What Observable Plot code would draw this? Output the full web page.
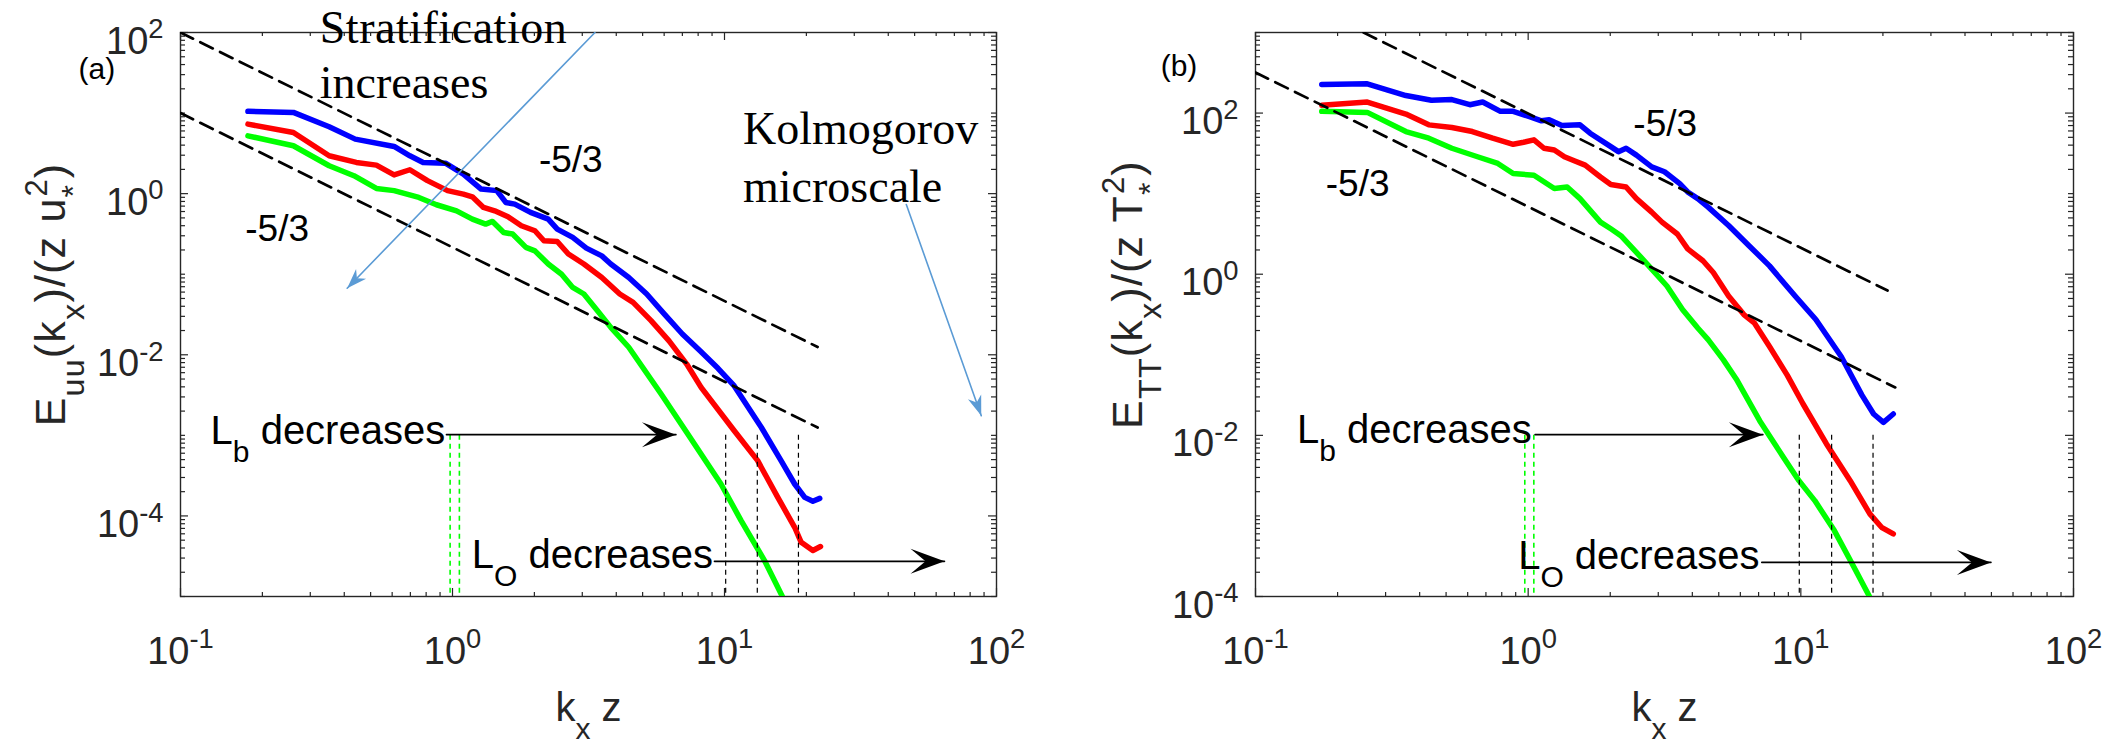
<!DOCTYPE html>
<html><head><meta charset="utf-8">
<script src="https://cdn.jsdelivr.net/npm/d3@7"></script>
<script src="https://cdn.jsdelivr.net/npm/@observablehq/plot@0.6"></script>
<style>
html,body{margin:0;padding:0;background:#fff;}
#wrap{display:flex;width:2116px;height:744px;overflow:hidden;background:#fff;}
svg{display:block;}
</style></head><body><div id="wrap"></div>
<script>
// ---------------- data: panel (a) E_uu ----------------
const a_blue_k = [0.177,0.26,0.352,0.439,0.61,0.697,0.78,0.942,1.096,1.274,1.455,1.57,1.694,1.936,2.249,2.427,2.767,3.105,3.54,3.819,4.446,5.176,6.012,6.998,8.128,9.462,10.86,13.65,16.14,18.11,19.72,21.13,22.39];
const a_blue_E = [10.5,10.2,6.76,4.75,3.85,2.95,2.44,2.39,1.75,1.14,1.09,0.778,0.741,0.585,0.483,0.363,0.286,0.211,0.169,0.134,0.0912,0.0568,0.032,0.0181,0.0112,0.0068,0.0041,0.00126,4.85e-4,2.49e-4,1.70e-4,1.52e-4,1.65e-4];
const a_red_k = [0.177,0.26,0.352,0.443,0.525,0.61,0.697,0.809,0.959,1.096,1.183,1.3,1.429,1.6,1.791,2.009,2.168,2.427,2.667,3.041,3.54,4.121,4.613,5.37,6.252,7.261,8.204,10.86,13.24,15.7,18.11,19.14,21.13,22.54];
const a_red_E = [7.29,5.74,2.95,2.44,2.26,1.71,1.98,1.45,1.09,0.986,0.914,0.675,0.612,0.516,0.399,0.346,0.26,0.255,0.178,0.134,0.0912,0.0568,0.0447,0.0265,0.0149,0.00767,0.00394,0.00114,4.85e-4,1.70e-4,7.23e-5,4.70e-5,3.72e-5,4.17e-5];
const a_green_k = [0.177,0.26,0.352,0.434,0.525,0.61,0.752,0.873,1.035,1.183,1.324,1.403,1.542,1.663,1.862,2.009,2.249,2.518,2.767,3.041,3.412,3.819,4.446,5.848,7.328,9.705,11.51,14.03,16.37];
const a_green_E = [5.22,3.93,2.22,1.67,1.16,1.09,0.897,0.728,0.612,0.483,0.419,0.452,0.33,0.315,0.215,0.195,0.134,0.1,0.0686,0.0568,0.0352,0.0219,0.0124,0.00326,0.00104,2.49e-4,8.75e-5,2.79e-5,9.8e-6];

// ---------------- data: panel (b) E_TT ----------------
const b_blue_k = [0.175,0.257,0.356,0.442,0.525,0.611,0.681,0.791,0.881,1.005,1.119,1.194,1.33,1.549,1.687,2.009,2.143,2.286,2.495,2.838,3.162,3.597,3.846,4.188,4.571,5.433,6.457,7.674,9.528,11.35,14.06,16.75,18.49,20.09,21.83];
const b_blue_E = [226,231,165,144,147,127,137,105,105,90.8,80.2,82.6,70.1,71.4,56.2,38.3,33.2,36.6,30.1,21.5,18.7,13.3,10.5,8.67,6.81,4.02,2.26,1.27,0.536,0.274,0.0953,0.0316,0.0184,0.0145,0.0184];
const b_red_k = [0.175,0.257,0.356,0.432,0.525,0.624,0.741,0.881,0.962,1.05,1.143,1.247,1.358,1.483,1.618,1.841,2.009,2.286,2.495,2.838,3.097,3.524,3.846,4.375,4.775,5.433,6.18,6.745,7.674,8.913,10.19,12.42,15.17,17.91,19.77,21.83];
const b_red_E = [125,137,97.3,71.4,66.2,59.0,48.8,41.0,43.4,46.5,36.6,34.8,28.7,25.4,22.6,16.1,13.0,12.1,8.67,5.9,4.43,3.16,2.06,1.47,1.05,0.536,0.316,0.249,0.127,0.056,0.0245,0.00782,0.00274,0.00106,7.23e-4,5.98e-4];
const b_green_k = [0.175,0.257,0.356,0.432,0.525,0.652,0.774,0.881,1.05,1.247,1.39,1.549,1.841,2.009,2.188,2.495,2.838,3.228,3.681,4.188,4.571,5.2,5.794,7.063,8.63,9.84,11.25,13.27,15.67,17.91];
const b_green_E = [105,102,59.0,48.8,36.6,28.7,23.7,17.8,16.9,11.6,12.1,8.67,4.43,3.66,3.01,1.87,1.16,0.714,0.365,0.215,0.154,0.0865,0.0501,0.0152,0.00535,0.00274,0.00155,6.58e-4,2.31e-4,9.8e-5];

// ---------------- -5/3 reference lines (end points) ----------------
const a_refUpper = [[0.1, 100], [22, 0.0125]];
const a_refLower = [[0.1, 10], [22, 0.00125]];
const b_refUpper = [[0.249, 1000], [20.8, 0.627]];
const b_refLower = [[0.1, 319], [22.2, 0.0393]];

// ---------------- vertical markers ----------------
const a_LO_k = [10.1, 13.2, 18.7];
const a_Lb_k = [0.98, 1.06];
const a_vRange = [1e-3, 1e-5];
const b_LO_k = [9.87, 12.97, 18.4];
const b_Lb_k = [0.972, 1.049];
const b_vRange = [1e-2, 1e-4];

// ---------------- ticks ----------------
const xTickVals = [0.1, 1, 10, 100];
const xTickLabels = ["10^{-1}", "10^{0}", "10^{1}", "10^{2}"];
const yTickVals = [1e2, 1, 1e-2, 1e-4];
const yTickLabels = ["10^{2}", "10^{0}", "10^{-2}", "10^{-4}"];

// ---------------- annotations (data coordinates) ----------------
const a_annot = {
  tag: {text: "(a)", at: [0.0422, 26.5]},
  slopes: [{text: "-5/3", at: [2.078, 1.87]}, {text: "-5/3", at: [0.173, 0.261]}],
  serif: [{text: "Stratification", at: [0.325, 74.5], len: 247}, {text: "increases", at: [0.325, 15.5]},
          {text: "Kolmogorov", at: [11.7, 4.16]}, {text: "microscale", at: [11.7, 0.794]}],
  labels: [{text: "L_{b} decreases", at: [0.129, 7.9e-4]}, {text: "L_{O} decreases", at: [1.178, 2.26e-5]}],
  blackArrows: [{from: [0.95, 1.02e-3], to: [6.63, 1.02e-3]}, {from: [9.18, 2.73e-5], to: [64.4, 2.73e-5]}],
  blueArrows: [{from: [3.34, 100], to: [0.41, 0.067]}, {from: [46.6, 0.734], to: [87.9, 1.75e-3]}]
};
const b_annot = {
  tag: {text: "(b)", at: [0.0449, 290]},
  slopes: [{text: "-5/3", at: [2.43, 52.2]}, {text: "-5/3", at: [0.181, 9.42]}],
  serif: [],
  labels: [{text: "L_{b} decreases", at: [0.142, 7.96e-3]}, {text: "L_{O} decreases", at: [0.919, 2.2e-4]}],
  blackArrows: [{from: [1.06, 0.0102], to: [7.26, 0.0102]}, {from: [7.19, 2.65e-4], to: [49.8, 2.65e-4]}],
  blueArrows: []
};

const SANS = "'Liberation Sans', Arial, Helvetica, sans-serif";
const SERIF = "'Liberation Serif', 'Times New Roman', serif";
const AXIS = "#262626";
const ARROWBLUE = "#5b9bd5";

function rows(k, E) { return k.map((v, i) => ({k: v, E: E[i]})); }

function headSymbol(len, half, notch, angle) {
  const c = Math.cos(angle), s = Math.sin(angle);
  const pts = [[0, 0], [-len, -half], [-notch, 0], [-len, half]].map(([x, y]) => [x * c - y * s, x * s + y * c]);
  return {draw(ctx) { ctx.moveTo(pts[0][0], pts[0][1]); for (let i = 1; i < pts.length; i++) ctx.lineTo(pts[i][0], pts[i][1]); ctx.closePath(); }};
}

function isMajor(v, list) { return list.some(m => Math.abs(Math.log10(v) - Math.log10(m)) < 1e-9); }

function panel(o) {
  const W = 1058, H = 744, mt = 32, mb = 148, ml = o.ml, mr = o.mr;
  const fh = H - mt - mb, fw = W - ml - mr;
  const xs = d3.scaleLog([0.1, 100], [ml, W - mr]);
  const ys = d3.scaleLog(o.yDomain, [H - mb, mt]);
  const xAll = d3.scaleLog().domain([0.1, 100]).ticks();
  const yAll = d3.scaleLog().domain(o.yDomain).ticks();
  const xMaj = xAll.filter(v => isMajor(v, xTickVals)), xMin = xAll.filter(v => !isMajor(v, xTickVals));
  const yMaj = yAll.filter(v => isMajor(v, yTickVals)), yMin = yAll.filter(v => !isMajor(v, yTickVals));
  const tk = {stroke: AXIS, strokeWidth: 1.2};
  const A = o.annot;
  const marks = [
    Plot.tickX(xMaj, {x: d => d, insetTop: fh - 8, ...tk}),
    Plot.tickX(xMaj, {x: d => d, insetBottom: fh - 8, ...tk}),
    Plot.tickX(xMin, {x: d => d, insetTop: fh - 4, ...tk}),
    Plot.tickX(xMin, {x: d => d, insetBottom: fh - 4, ...tk}),
    Plot.tickY(yMaj, {y: d => d, insetRight: fw - 8, ...tk}),
    Plot.tickY(yMaj, {y: d => d, insetLeft: fw - 8, ...tk}),
    Plot.tickY(yMin, {y: d => d, insetRight: fw - 5, ...tk}),
    Plot.tickY(yMin, {y: d => d, insetLeft: fw - 5, ...tk}),
    Plot.frame({stroke: AXIS, strokeWidth: 1.4}),
    // tick labels
    Plot.text(xTickVals, {x: d => d, text: (d, i) => xTickLabels[i], frameAnchor: "bottom", dy: 67, lineAnchor: "bottom", textAnchor: "middle", fontSize: 38, fill: AXIS, fontFamily: SANS}),
    Plot.text(yTickVals, {y: d => d, text: (d, i) => yTickLabels[i], frameAnchor: "left", dx: -17, dy: 21, lineAnchor: "bottom", textAnchor: "end", fontSize: 38, fill: AXIS, fontFamily: SANS}),
    // axis labels
    Plot.text([o.xLabel], {text: d => d, frameAnchor: "bottom", dy: 124, lineAnchor: "bottom", textAnchor: "middle", fontSize: 40, fill: AXIS, fontFamily: SANS}),
    Plot.text([o.yLabel], {text: d => d, frameAnchor: "left", dx: o.yLabelDx, dy: -20, rotate: -90, lineAnchor: "bottom", textAnchor: "middle", fontSize: 43, fill: AXIS, fontFamily: SANS}),
    // curves
    ...o.series.map(s => Plot.line(rows(s.k, s.E), {x: "k", y: "E", stroke: s.color, strokeWidth: 5.5, strokeLinejoin: "round", strokeLinecap: "round", clip: true})),
    // reference -5/3 lines
    ...o.refs.map(r => Plot.line(r, {x: d => d[0], y: d => d[1], stroke: "black", strokeWidth: 2.7, strokeDasharray: "14,8", clip: true})),
    // vertical markers
    Plot.ruleX(o.LO_k, {x: d => d, y1: o.vRange[0], y2: o.vRange[1], stroke: "black", strokeWidth: 1.2, strokeDasharray: "5,4"}),
    Plot.ruleX(o.Lb_k, {x: d => d, y1: o.vRange[0], y2: o.vRange[1], stroke: "#00ff00", strokeWidth: 1.6, strokeDasharray: "5,4"}),
    // black arrows
    ...A.blackArrows.map(a => Plot.line([a.from, a.to], {x: d => d[0], y: d => d[1], stroke: "black", strokeWidth: 1.6})),
    ...A.blackArrows.map(a => Plot.dot([a.to], {x: d => d[0], y: d => d[1], symbol: headSymbol(34, 12.5, 19, 0), fill: "black", stroke: "none", r: 5})),
    // blue arrows
    ...A.blueArrows.map(a => Plot.line([a.from, a.to], {x: d => d[0], y: d => d[1], stroke: ARROWBLUE, strokeWidth: 1.6, clip: true})),
    ...A.blueArrows.map(a => {
      const ang = Math.atan2(ys(a.to[1]) - ys(a.from[1]), xs(a.to[0]) - xs(a.from[0]));
      return Plot.dot([a.to], {x: d => d[0], y: d => d[1], symbol: headSymbol(20, 7, 14, ang), fill: ARROWBLUE, stroke: "none", r: 5});
    }),
    // texts
    Plot.text([A.tag], {x: d => d.at[0], y: d => d.at[1], text: d => d.text, textAnchor: "start", lineAnchor: "bottom", fontSize: 30, fill: "black", fontFamily: SANS}),
    Plot.text(A.slopes, {x: d => d.at[0], y: d => d.at[1], text: d => d.text, textAnchor: "start", lineAnchor: "bottom", fontSize: 37, fill: "black", fontFamily: SANS}),
    Plot.text(A.serif, {x: d => d.at[0], y: d => d.at[1], text: d => d.text, textAnchor: "start", lineAnchor: "bottom", fontSize: 46, fill: "black", fontFamily: SERIF}),
    Plot.text(A.labels, {x: d => d.at[0], y: d => d.at[1], text: d => d.text, textAnchor: "start", lineAnchor: "bottom", fontSize: 40, fill: "black", fontFamily: SANS})
  ];
  const svg = Plot.plot({
    width: W, height: H, marginTop: mt, marginBottom: mb, marginLeft: ml, marginRight: mr,
    x: {type: "log", domain: [0.1, 100], axis: null},
    y: {type: "log", domain: o.yDomain, axis: null},
    style: {background: "#fff", fontFamily: SANS, overflow: "visible"},
    marks
  });
  richify(svg);
  // stretch specific serif texts to the reference width
  A.serif.filter(d => d.len).forEach(d => {
    svg.querySelectorAll("text").forEach(t => {
      if (t.textContent === d.text) { t.setAttribute("textLength", d.len); t.setAttribute("lengthAdjust", "spacing"); }
    });
  });
  // slightly open the rotated y label
  svg.querySelectorAll("text").forEach(t => {
    if (t.textContent.startsWith("E")) t.setAttribute("letter-spacing", "1.2");
  });
  return svg;
}

// convert ^{..} and _{..} into superscript / subscript tspans
function richify(svg) {
  svg.querySelectorAll("text").forEach(t => {
    const s = t.textContent;
    if (!/[\^_]\{/.test(s)) return;
    const fs = parseFloat(t.getAttribute("font-size") || (t.parentNode && t.parentNode.getAttribute("font-size"))) || 38;
    const parts = [];
    const re = /([\^_])\{([^}]*)\}/g;
    let last = 0, m;
    while ((m = re.exec(s))) {
      if (m.index > last) parts.push({type: "n", str: s.slice(last, m.index)});
      parts.push({type: m[1] === "^" ? "sup" : "sub", str: m[2]});
      last = re.lastIndex;
    }
    if (last < s.length) parts.push({type: "n", str: s.slice(last)});
    t.textContent = "";
    let cur = 0, prev = null;
    const NS = "http://www.w3.org/2000/svg";
    parts.forEach(p => {
      const ts = document.createElementNS(NS, "tspan");
      let target = 0, size = fs;
      if (p.type === "sup") { target = -0.4 * fs; size = 0.72 * fs; }
      else if (p.type === "sub") { target = 0.45 * fs; size = 0.75 * fs; }
      const dy = target - cur;
      if (dy) ts.setAttribute("dy", dy.toFixed(2));
      if (p.type === "sup" && prev && prev.type === "sub") {
        ts.setAttribute("dx", (-prev.str.length * 0.4 * 0.75 * fs).toFixed(2));
      }
      ts.setAttribute("font-size", size.toFixed(2));
      ts.textContent = p.str;
      t.appendChild(ts);
      cur = target; prev = p;
    });
  });
}

const wrap = document.getElementById("wrap");
wrap.appendChild(panel({
  ml: 180, mr: 62, yDomain: [1e-5, 1e2],
  xLabel: "k_{x} z", yLabel: "E_{uu}(k_{x})/(z u_{*}^{2})", yLabelDx: -116,
  series: [
    {k: a_blue_k, E: a_blue_E, color: "#0000ff"},
    {k: a_red_k, E: a_red_E, color: "#ff0000"},
    {k: a_green_k, E: a_green_E, color: "#00ff00"}
  ],
  refs: [a_refUpper, a_refLower],
  LO_k: a_LO_k, Lb_k: a_Lb_k, vRange: a_vRange,
  annot: a_annot
}));
wrap.appendChild(panel({
  ml: 197, mr: 43, yDomain: [1e-4, 1e3],
  xLabel: "k_{x} z", yLabel: "E_{TT}(k_{x})/(z T_{*}^{2})", yLabelDx: -114,
  series: [
    {k: b_blue_k, E: b_blue_E, color: "#0000ff"},
    {k: b_red_k, E: b_red_E, color: "#ff0000"},
    {k: b_green_k, E: b_green_E, color: "#00ff00"}
  ],
  refs: [b_refUpper, b_refLower],
  LO_k: b_LO_k, Lb_k: b_Lb_k, vRange: b_vRange,
  annot: b_annot
}));
</script></body></html>
